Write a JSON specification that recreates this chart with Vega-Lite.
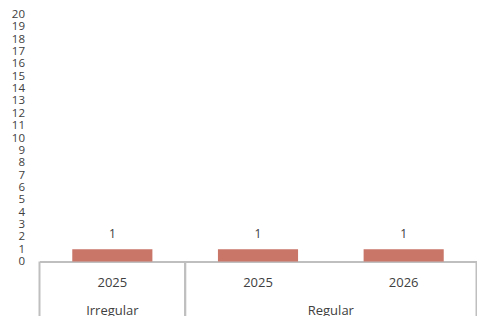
{
  "$schema": "https://vega.github.io/schema/vega-lite/v6.json",
  "width": 437,
  "height": 247,
  "autosize": {"type": "none"},
  "padding": {"left": 39.5, "top": 14.5, "right": 0.5, "bottom": 54.5},
  "background": "white",
  "config": {
    "view": {"stroke": null},
    "font": "Open Sans",
    "axisY": {"labelOverlap": false, "labelSeparation": 0, "grid": false, "domain": false, "ticks": false, "labelPadding": 15, "labelFontSize": 11.5, "labelColor": "#404040", "title": null}
  },
  "datasets": {
    "bars": [
      {"group": "Irregular", "year": "2025", "key": "Irregular 2025", "value": 1},
      {"group": "Regular", "year": "2025", "key": "Regular 2025", "value": 1},
      {"group": "Regular", "year": "2026", "key": "Regular 2026", "value": 1}
    ],
    "groups": [
      {"group": "Irregular", "first": "Irregular 2025", "last": "Irregular 2025"},
      {"group": "Regular", "first": "Regular 2025", "last": "Regular 2026"}
    ]
  },
  "layer": [
    {
      "data": {"name": "bars"},
      "mark": {"type": "bar", "width": {"band": 0.55}, "color": "#C97568"},
      "encoding": {
        "x": {
          "field": "key", "type": "nominal", "sort": null,
          "scale": {"domain": ["Irregular 2025", "Regular 2025", "Regular 2026"], "paddingInner": 0, "paddingOuter": 0},
          "axis": {
            "title": null, "labelExpr": "split(datum.label, ' ')[1]", "labelAngle": 0,
            "ticks": false, "labelPadding": 15, "labelFontSize": 13, "labelColor": "#404040",
            "domainColor": "#BFBFBF", "domainWidth": 2
          }
        },
        "y": {
          "field": "value", "type": "quantitative",
          "scale": {"domain": [0, 20], "nice": false},
          "axis": {"title": null, "values": [0,1,2,3,4,5,6,7,8,9,10,11,12,13,14,15,16,17,18,19,20], "labelOverlap": false}
        }
      }
    },
    {
      "data": {"name": "bars"},
      "mark": {"type": "text", "baseline": "middle", "dy": -15, "fontSize": 12, "color": "#404040"},
      "encoding": {
        "x": {"field": "key", "type": "nominal"},
        "y": {"field": "value", "type": "quantitative", "axis": {"title": null, "values": [0,1,2,3,4,5,6,7,8,9,10,11,12,13,14,15,16,17,18,19,20], "labelOverlap": false}},
        "text": {"field": "value", "type": "quantitative"}
      }
    },
    {
      "data": {"name": "groups"},
      "mark": {"type": "rule", "color": "#BFBFBF", "strokeWidth": 2},
      "encoding": {
        "x": {"field": "first", "type": "nominal", "bandPosition": 0},
        "y": {"datum": 0, "type": "quantitative", "axis": {"title": null, "values": [0,1,2,3,4,5,6,7,8,9,10,11,12,13,14,15,16,17,18,19,20], "labelOverlap": false}},
        "y2": {"datum": -5}
      }
    },
    {
      "data": {"name": "groups"},
      "mark": {"type": "rule", "color": "#BFBFBF", "strokeWidth": 2},
      "encoding": {
        "x": {"field": "last", "type": "nominal", "bandPosition": 1},
        "y": {"datum": 0, "type": "quantitative", "axis": {"title": null, "values": [0,1,2,3,4,5,6,7,8,9,10,11,12,13,14,15,16,17,18,19,20], "labelOverlap": false}},
        "y2": {"datum": -5}
      }
    },
    {
      "data": {"name": "groups"},
      "transform": [{"filter": "datum.group === 'Irregular'"}],
      "mark": {"type": "text", "baseline": "middle", "fontSize": 13, "color": "#404040"},
      "encoding": {
        "x": {"field": "first", "type": "nominal", "bandPosition": 0.5},
        "y": {"datum": -4.0, "type": "quantitative", "axis": {"title": null, "values": [0,1,2,3,4,5,6,7,8,9,10,11,12,13,14,15,16,17,18,19,20], "labelOverlap": false}},
        "text": {"field": "group"}
      }
    },
    {
      "data": {"name": "groups"},
      "transform": [{"filter": "datum.group === 'Regular'"}],
      "mark": {"type": "text", "baseline": "middle", "fontSize": 13, "color": "#404040"},
      "encoding": {
        "x": {"field": "first", "type": "nominal", "bandPosition": 1},
        "y": {"datum": -4.0, "type": "quantitative", "axis": {"title": null, "values": [0,1,2,3,4,5,6,7,8,9,10,11,12,13,14,15,16,17,18,19,20], "labelOverlap": false}},
        "text": {"field": "group"}
      }
    }
  ]
}
